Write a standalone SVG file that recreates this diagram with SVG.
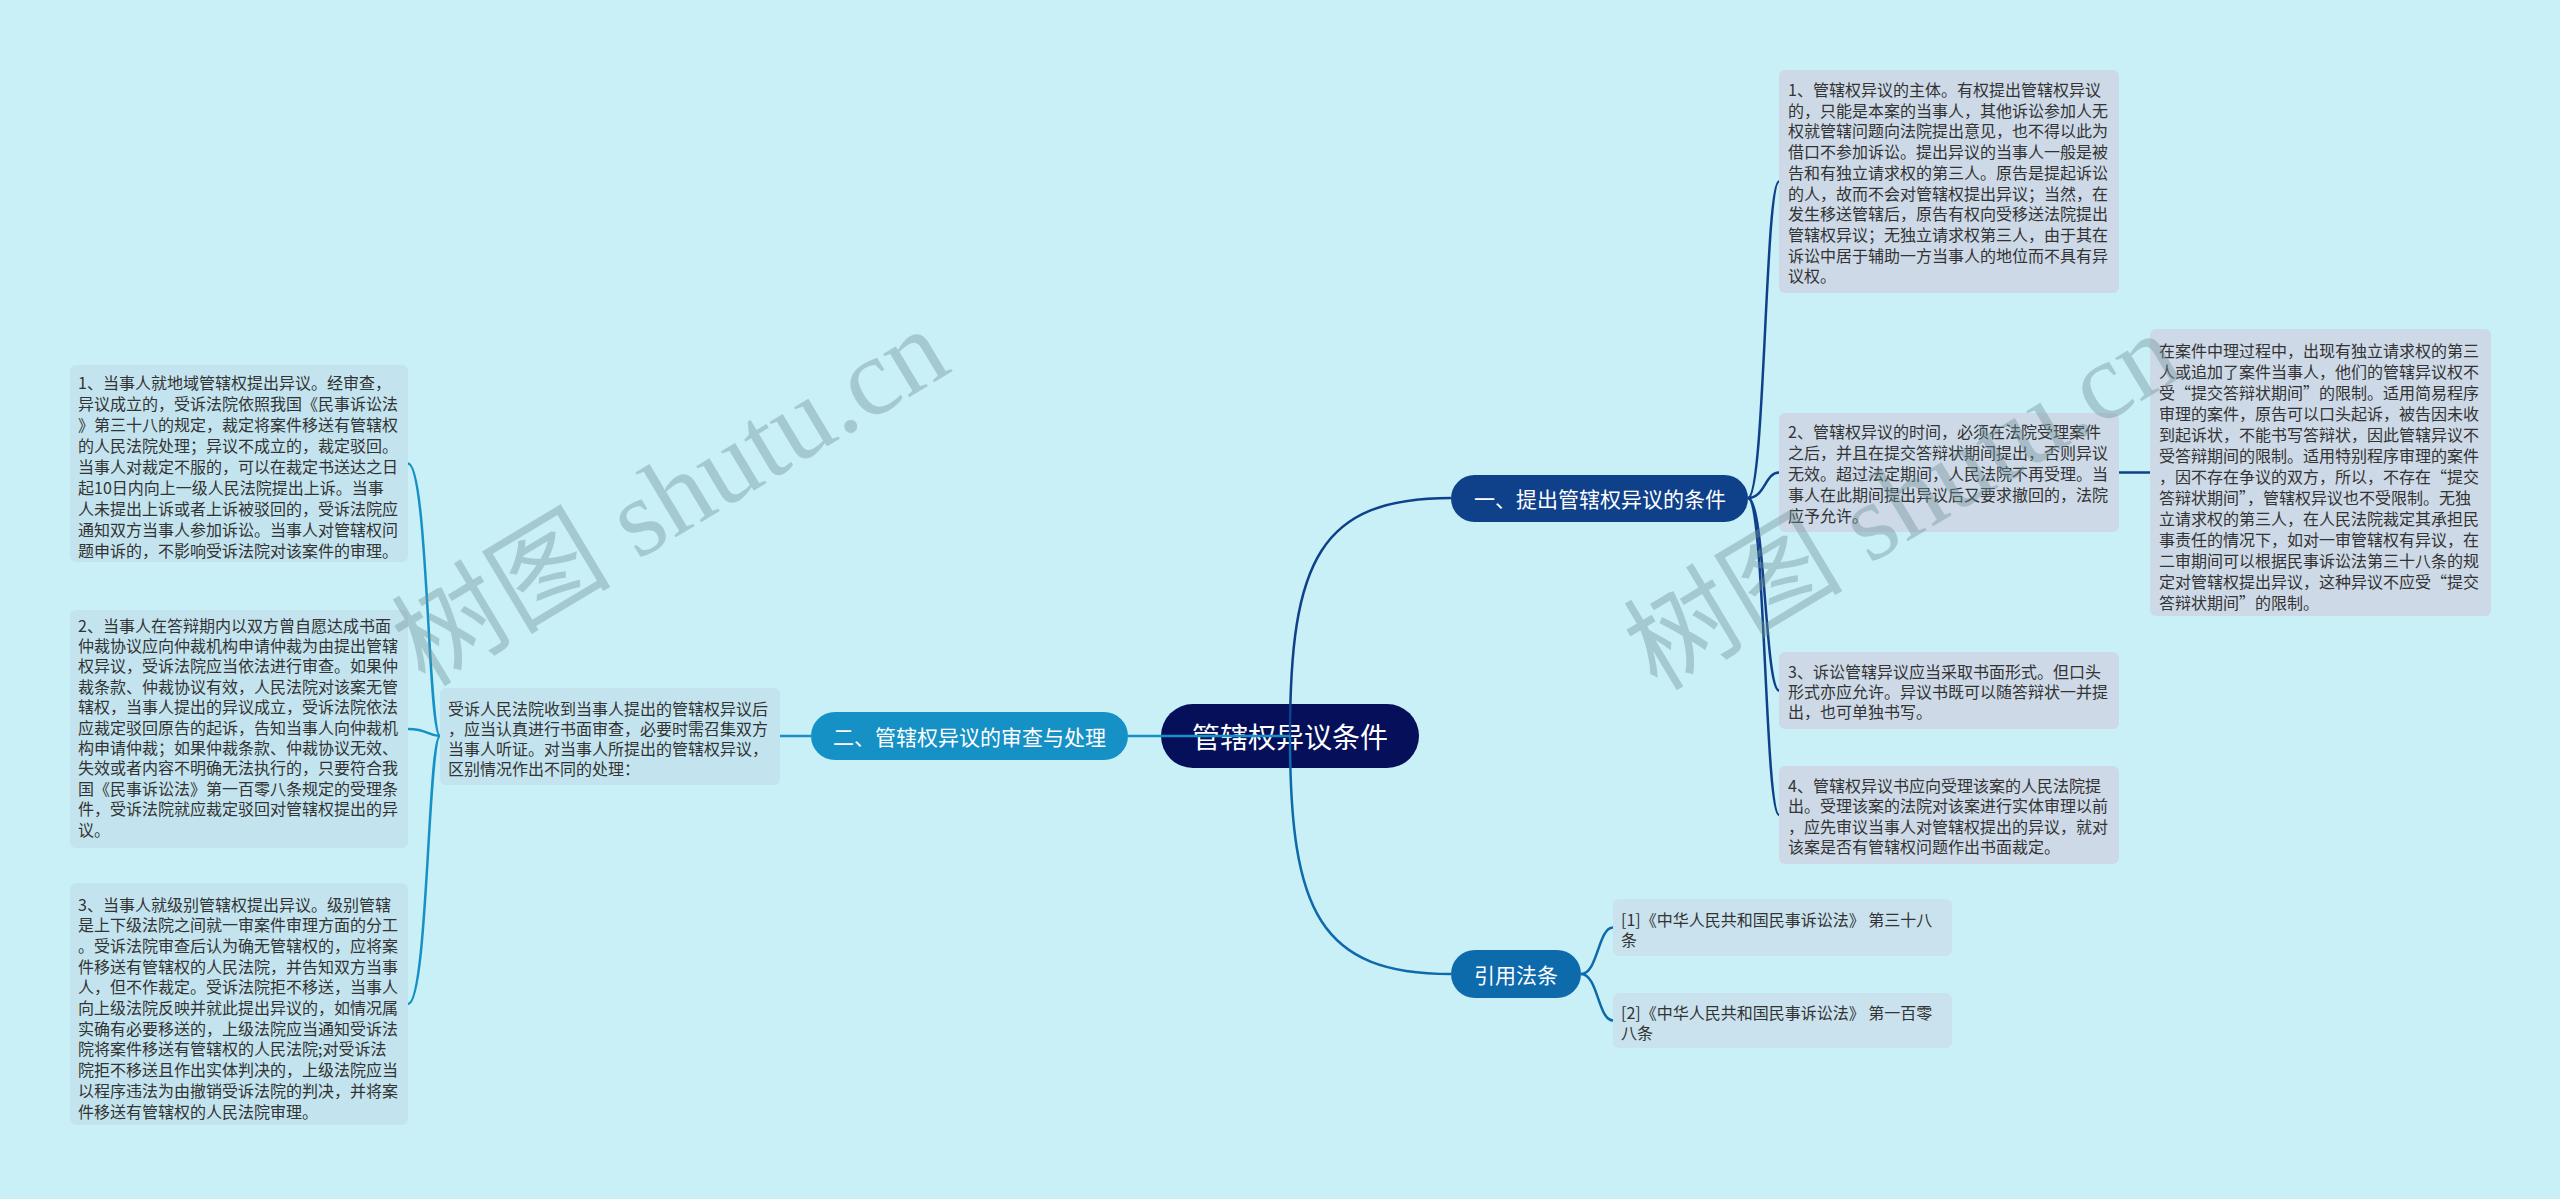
<svg xmlns="http://www.w3.org/2000/svg" width="2560" height="1199" viewBox="0 0 2560 1199">
<style>
.bg{fill:#c9f0f7}
.lbl{font-family:"Noto Sans CJK SC","Noto Sans",sans-serif;fill:#fff;text-anchor:middle;dominant-baseline:central}
.t{font-family:"Noto Sans CJK SC","Noto Sans",sans-serif;font-size:16px;fill:#333}
.rb{fill:#cdd9e6}
.lb{fill:#c3e4ee}
.fb{fill:#c9e2ee}
.c{fill:none;stroke-width:2.5}
.c1{stroke:#0f418a}
.c2{stroke:#1591c6}
.c3{stroke:#0d6aab}
.wm{font-family:"Liberation Serif","Noto Sans CJK SC",serif;font-size:110px;fill:#6f9198;opacity:0.4}
</style>
<rect class="bg" x="0" y="0" width="2560" height="1199"/>

<g id="node-root">
<rect x="1161" y="704" width="258" height="64" rx="32" fill="#050f5a"/>
<text class="lbl" x="1290" y="736" font-size="28">管辖权异议条件</text>
</g>

<g id="node-b1">
<rect x="1451" y="475" width="297" height="47" rx="23.5" fill="#0f418a"/>
<text class="lbl" x="1600" y="498" font-size="21">一、提出管辖权异议的条件</text>
</g>

<g id="node-b2">
<rect x="811" y="712" width="317" height="48" rx="24" fill="#1591c6"/>
<text class="lbl" x="969.5" y="736" font-size="21">二、管辖权异议的审查与处理</text>
</g>

<g id="node-b3">
<rect x="1451" y="950" width="130" height="48" rx="24" fill="#0d6aab"/>
<text class="lbl" x="1516" y="974" font-size="21">引用法条</text>
</g>

<g id="leaf-r1">
<rect class="rb" x="1779" y="70" width="340" height="223" rx="6"/>
<text class="t" y="96"><tspan x="1788">1、管辖权异议的主体。有权提出管辖权异议</tspan><tspan x="1788" dy="20.7">的，只能是本案的当事人，其他诉讼参加人无</tspan><tspan x="1788" dy="20.7">权就管辖问题向法院提出意见，也不得以此为</tspan><tspan x="1788" dy="20.7">借口不参加诉讼。提出异议的当事人一般是被</tspan><tspan x="1788" dy="20.7">告和有独立请求权的第三人。原告是提起诉讼</tspan><tspan x="1788" dy="20.7">的人，故而不会对管辖权提出异议；当然，在</tspan><tspan x="1788" dy="20.7">发生移送管辖后，原告有权向受移送法院提出</tspan><tspan x="1788" dy="20.7">管辖权异议；无独立请求权第三人，由于其在</tspan><tspan x="1788" dy="20.7">诉讼中居于辅助一方当事人的地位而不具有异</tspan><tspan x="1788" dy="20.7">议权。</tspan></text>
</g>

<g id="leaf-r2">
<rect class="rb" x="1779" y="413" width="340" height="119" rx="6"/>
<text class="t" y="437.5"><tspan x="1788">2、管辖权异议的时间，必须在法院受理案件</tspan><tspan x="1788" dy="21">之后，并且在提交答辩状期间提出，否则异议</tspan><tspan x="1788" dy="21">无效。超过法定期间，人民法院不再受理。当</tspan><tspan x="1788" dy="21">事人在此期间提出异议后又要求撤回的，法院</tspan><tspan x="1788" dy="21">应予允许。</tspan></text>
</g>

<g id="leaf-r2a">
<rect class="rb" x="2150" y="329" width="341" height="287" rx="6"/>
<text class="t" y="356.5"><tspan x="2159">在案件中理过程中，出现有独立请求权的第三</tspan><tspan x="2159" dy="21">人或追加了案件当事人，他们的管辖异议权不</tspan><tspan x="2159" dy="21">受“提交答辩状期间”的限制。适用简易程序</tspan><tspan x="2159" dy="21">审理的案件，原告可以口头起诉，被告因未收</tspan><tspan x="2159" dy="21">到起诉状，不能书写答辩状，因此管辖异议不</tspan><tspan x="2159" dy="21">受答辩期间的限制。适用特别程序审理的案件</tspan><tspan x="2159" dy="21">，因不存在争议的双方，所以，不存在“提交</tspan><tspan x="2159" dy="21">答辩状期间”，管辖权异议也不受限制。无独</tspan><tspan x="2159" dy="21">立请求权的第三人，在人民法院裁定其承担民</tspan><tspan x="2159" dy="21">事责任的情况下，如对一审管辖权有异议，在</tspan><tspan x="2159" dy="21">二审期间可以根据民事诉讼法第三十八条的规</tspan><tspan x="2159" dy="21">定对管辖权提出异议，这种异议不应受“提交</tspan><tspan x="2159" dy="21">答辩状期间”的限制。</tspan></text>
</g>

<g id="leaf-r3">
<rect class="rb" x="1779" y="652" width="340" height="77" rx="6"/>
<text class="t" y="677.5"><tspan x="1788">3、诉讼管辖异议应当采取书面形式。但口头</tspan><tspan x="1788" dy="20.3">形式亦应允许。异议书既可以随答辩状一并提</tspan><tspan x="1788" dy="20.3">出，也可单独书写。</tspan></text>
</g>

<g id="leaf-r4">
<rect class="rb" x="1779" y="766" width="340" height="98" rx="6"/>
<text class="t" y="791.5"><tspan x="1788">4、管辖权异议书应向受理该案的人民法院提</tspan><tspan x="1788" dy="20.5">出。受理该案的法院对该案进行实体审理以前</tspan><tspan x="1788" dy="20.5">，应先审议当事人对管辖权提出的异议，就对</tspan><tspan x="1788" dy="20.5">该案是否有管辖权问题作出书面裁定。</tspan></text>
</g>

<g id="leaf-ref1">
<rect class="fb" x="1613" y="899" width="339" height="57" rx="6"/>
<text class="t" y="925.5"><tspan x="1621">[1]《中华人民共和国民事诉讼法》 第三十八</tspan><tspan x="1621" dy="20.5">条</tspan></text>
</g>

<g id="leaf-ref2">
<rect class="fb" x="1613" y="993" width="339" height="55" rx="6"/>
<text class="t" y="1018.5"><tspan x="1621">[2]《中华人民共和国民事诉讼法》 第一百零</tspan><tspan x="1621" dy="20.5">八条</tspan></text>
</g>

<g id="leaf-m">
<rect class="lb" x="440" y="688" width="340" height="97" rx="6"/>
<text class="t" y="714.5"><tspan x="448">受诉人民法院收到当事人提出的管辖权异议后</tspan><tspan x="448" dy="20.2">，应当认真进行书面审查，必要时需召集双方</tspan><tspan x="448" dy="20.2">当事人听证。对当事人所提出的管辖权异议，</tspan><tspan x="448" dy="20.2">区别情况作出不同的处理：</tspan></text>
</g>

<g id="leaf-l1">
<rect class="lb" x="70" y="365" width="338" height="197" rx="6"/>
<text class="t" y="388.5"><tspan x="78">1、当事人就地域管辖权提出异议。经审查，</tspan><tspan x="78" dy="21">异议成立的，受诉法院依照我国《民事诉讼法</tspan><tspan x="78" dy="21">》第三十八的规定，裁定将案件移送有管辖权</tspan><tspan x="78" dy="21">的人民法院处理；异议不成立的，裁定驳回。</tspan><tspan x="78" dy="21">当事人对裁定不服的，可以在裁定书送达之日</tspan><tspan x="78" dy="21">起10日内向上一级人民法院提出上诉。当事</tspan><tspan x="78" dy="21">人未提出上诉或者上诉被驳回的，受诉法院应</tspan><tspan x="78" dy="21">通知双方当事人参加诉讼。当事人对管辖权问</tspan><tspan x="78" dy="21">题申诉的，不影响受诉法院对该案件的审理。</tspan></text>
</g>

<g id="leaf-l2">
<rect class="lb" x="70" y="610" width="338" height="238" rx="6"/>
<text class="t" y="631.5"><tspan x="78">2、当事人在答辩期内以双方曾自愿达成书面</tspan><tspan x="78" dy="20.4">仲裁协议应向仲裁机构申请仲裁为由提出管辖</tspan><tspan x="78" dy="20.4">权异议，受诉法院应当依法进行审查。如果仲</tspan><tspan x="78" dy="20.4">裁条款、仲裁协议有效，人民法院对该案无管</tspan><tspan x="78" dy="20.4">辖权，当事人提出的异议成立，受诉法院依法</tspan><tspan x="78" dy="20.4">应裁定驳回原告的起诉，告知当事人向仲裁机</tspan><tspan x="78" dy="20.4">构申请仲裁；如果仲裁条款、仲裁协议无效、</tspan><tspan x="78" dy="20.4">失效或者内容不明确无法执行的，只要符合我</tspan><tspan x="78" dy="20.4">国《民事诉讼法》第一百零八条规定的受理条</tspan><tspan x="78" dy="20.4">件，受诉法院就应裁定驳回对管辖权提出的异</tspan><tspan x="78" dy="20.4">议。</tspan></text>
</g>

<g id="leaf-l3">
<rect class="lb" x="70" y="883" width="338" height="242" rx="6"/>
<text class="t" y="910.5"><tspan x="78">3、当事人就级别管辖权提出异议。级别管辖</tspan><tspan x="78" dy="20.7">是上下级法院之间就一审案件审理方面的分工</tspan><tspan x="78" dy="20.7">。受诉法院审查后认为确无管辖权的，应将案</tspan><tspan x="78" dy="20.7">件移送有管辖权的人民法院，并告知双方当事</tspan><tspan x="78" dy="20.7">人，但不作裁定。受诉法院拒不移送，当事人</tspan><tspan x="78" dy="20.7">向上级法院反映并就此提出异议的，如情况属</tspan><tspan x="78" dy="20.7">实确有必要移送的，上级法院应当通知受诉法</tspan><tspan x="78" dy="20.7">院将案件移送有管辖权的人民法院;对受诉法</tspan><tspan x="78" dy="20.7">院拒不移送且作出实体判决的，上级法院应当</tspan><tspan x="78" dy="20.7">以程序违法为由撤销受诉法院的判决，并将案</tspan><tspan x="78" dy="20.7">件移送有管辖权的人民法院审理。</tspan></text>
</g>

<g id="connectors">
<path class="c c1" d="M1290,736 C1290,560 1320,498 1451,498"/>
<path class="c c3" d="M1290,736 C1290,912 1320,974 1451,974"/>
<path class="c c2" d="M1290,736 L1128,736"/>
<path class="c c1" stroke-width="2" d="M1748,498 C1765,498 1765,181.5 1779,181.5"/>
<path class="c c1" stroke-width="2" d="M1748,498 C1765,498 1765,472.5 1779,472.5"/>
<path class="c c1" stroke-width="2" d="M1748,498 C1765,498 1765,690.5 1779,690.5"/>
<path class="c c1" stroke-width="2" d="M1748,498 C1765,498 1765,815 1779,815"/>
<path class="c c1" stroke-width="2" d="M2119,472.5 L2150,472.5"/>
<path class="c c3" stroke-width="2" d="M1581,974 C1598,974 1598,927.5 1613,927.5"/>
<path class="c c3" stroke-width="2" d="M1581,974 C1598,974 1598,1020.5 1613,1020.5"/>
<path class="c c2" stroke-width="2" d="M811,736 L780,736"/>
<path class="c c2" stroke-width="2" d="M440,736 C428,736 428,463.5 408,463.5"/>
<path class="c c2" stroke-width="2" d="M440,736 C428,736 428,729 408,729"/>
<path class="c c2" stroke-width="2" d="M440,736 C428,736 428,1004 408,1004"/>
</g>

<text class="wm" transform="translate(425,688) rotate(-31)">树图 shutu.cn</text>
<text class="wm" transform="translate(1657,692) rotate(-31)">树图 shutu.cn</text>
</svg>
